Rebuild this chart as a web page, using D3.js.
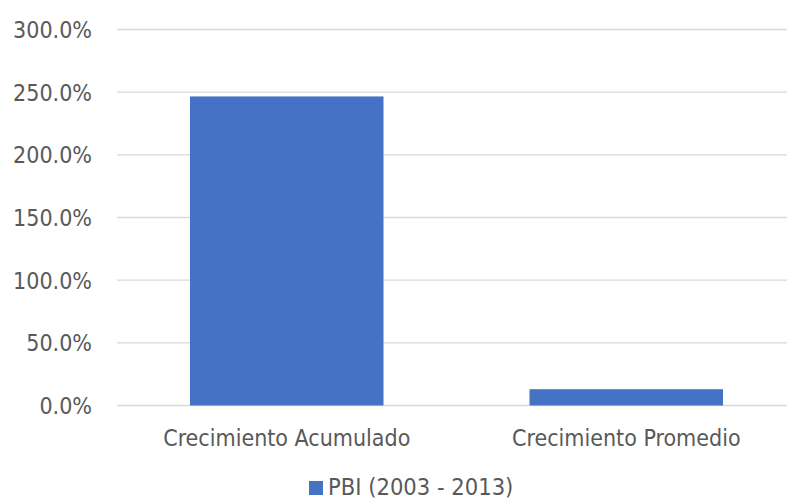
<!DOCTYPE html>
<html lang=es>
<meta charset=utf-8>
<title>PBI (2003 - 2013)</title>
<style>
    body { margin: 0; background: #fff; }
    text { font-family: "DejaVu Sans Condensed", "DejaVu Sans", sans-serif; fill: #595959; }
</style>
<svg id=chart width=788 height=501></svg>
<script src=https://cdn.jsdelivr.net/npm/d3@7></script>
<script>
// datos
var categories = ["Crecimiento Acumulado", "Crecimiento Promedio"];
var values = [246.6, 13.0];
var yTicks = [0, 50, 100, 150, 200, 250, 300];
var seriesName = "PBI (2003 - 2013)";

var svg = d3.select("#chart");
var margin = { top: 29.5, right: 1, bottom: 95.5, left: 117 };
var width = 788 - margin.left - margin.right;
var height = 501 - margin.top - margin.bottom;

var g = svg.append("g").attr("transform", "translate(" + margin.left + "," + margin.top + ")");

var x = d3.scaleBand().domain(categories).range([0, 679]).paddingInner(0.43).paddingOuter(0.215);
var y = d3.scaleLinear().domain([0, 300]).range([height, 0]);

// lineas de cuadricula
g.selectAll(".grid").data(yTicks).enter().append("line")
    .attr("x1", 0).attr("x2", width)
    .attr("y1", function (d) { return y(d); })
    .attr("y2", function (d) { return y(d); })
    .attr("stroke", "#d9d9d9").attr("stroke-width", 1.3);

// barras
g.selectAll(".bar").data(values).enter().append("rect")
    .attr("x", function (d, i) { return x(categories[i]); })
    .attr("y", function (d) { return y(d); })
    .attr("width", x.bandwidth())
    .attr("height", function (d) { return y(0) - y(d); })
    .attr("fill", "#4472c4");

// eje y
var yAxis = g.append("g").call(d3.axisLeft(y).tickValues(yTicks).tickSize(0).tickPadding(25)
    .tickFormat(function (d) { return d.toFixed(1) + "%"; }));
yAxis.select(".domain").remove();
yAxis.selectAll("text").attr("font-size", 23).attr("dy", "0.35em");

// eje x
var xAxis = g.append("g").attr("transform", "translate(0," + height + ")")
    .call(d3.axisBottom(x).tickSize(0).tickPadding(24));
xAxis.select(".domain").remove();
xAxis.selectAll("text").attr("font-size", 23);

// leyenda
var legend = svg.append("g").attr("transform", "translate(309,481)");
legend.append("rect").attr("width", 14).attr("height", 14).attr("fill", "#4472c4");
legend.append("text").attr("x", 19).attr("y", 14)
    .attr("font-size", 23.5).text(seriesName);
</script>
